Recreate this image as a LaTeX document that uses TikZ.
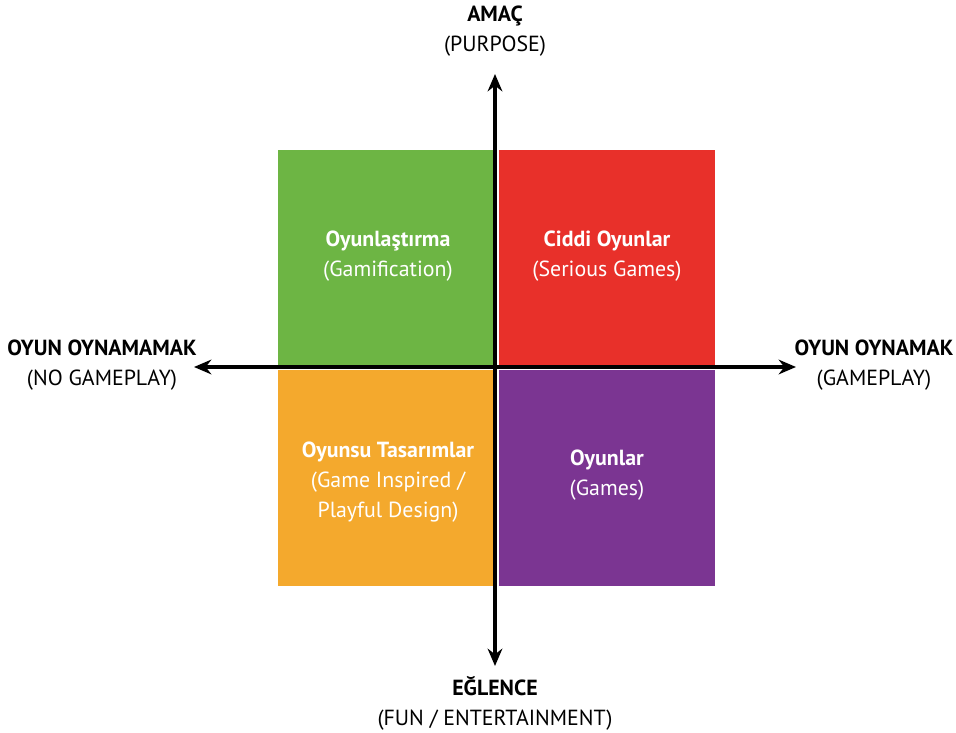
\documentclass[tikz,border=0pt]{standalone}
\usepackage{fontspec}
\setmainfont{PT Sans}
\usetikzlibrary{arrows.meta}
\definecolor{qgreen}{HTML}{6DB544}
\definecolor{qred}{HTML}{E8302A}
\definecolor{qorange}{HTML}{F4A92D}
\definecolor{qpurple}{HTML}{7B3592}
\begin{document}
\begin{tikzpicture}[x=0.75pt,y=-0.75pt,
  quad/.style={draw=none,minimum width=216*0.75pt,minimum height=216*0.75pt,inner sep=0pt,anchor=north west},
  qtext/.style={text=white,align=center,font=\fontsize{16.4}{22.5}\selectfont},
  axlabel/.style={text=black,align=center,font=\fontsize{16.4}{22.5}\selectfont},
  axis/.style={line width=3pt,{Stealth[length=13pt,width=11pt]}-{Stealth[length=13pt,width=11pt]}}]
\useasboundingbox[fill=white] (0,0) rectangle (956,732);
\node[quad,fill=qgreen] (green) at (278,150) {};
\node[quad,fill=qred] (red) at (499,150) {};
\node[quad,fill=qorange] (orange) at (278,370) {};
\node[quad,fill=qpurple] (purple) at (499,370) {};
\node[qtext] (tgreen) at (388,256) {\textbf{Oyunlaştırma}\\(Gamification)};
\node[qtext] (tred) at (607,256) {\textbf{Ciddi Oyunlar}\\(Serious Games)};
\node[qtext] (torange) at (388,482) {\textbf{Oyunsu Tasarımlar}\\(Game Inspired /\\Playful Design)};
\node[qtext] (tpurple) at (607,475) {\textbf{Oyunlar}\\(Games)};
\coordinate (top) at (495,74);
\coordinate (bottom) at (495,666);
\coordinate (left) at (194,367);
\coordinate (right) at (796,367);
\draw[axis] (top) -- (bottom);
\draw[axis] (left) -- (right);
\node[axlabel] (ltop) at (495,31) {\textbf{AMAÇ}\\(PURPOSE)};
\node[axlabel] (lbottom) at (495,703) {\textbf{EĞLENCE}\\(FUN / ENTERTAINMENT)};
\node[axlabel] (lleft) at (102,365) {\textbf{OYUN OYNAMAMAK}\\(NO GAMEPLAY)};
\node[axlabel] (lright) at (874,365) {\textbf{OYUN OYNAMAK}\\(GAMEPLAY)};
\end{tikzpicture}
\end{document}
